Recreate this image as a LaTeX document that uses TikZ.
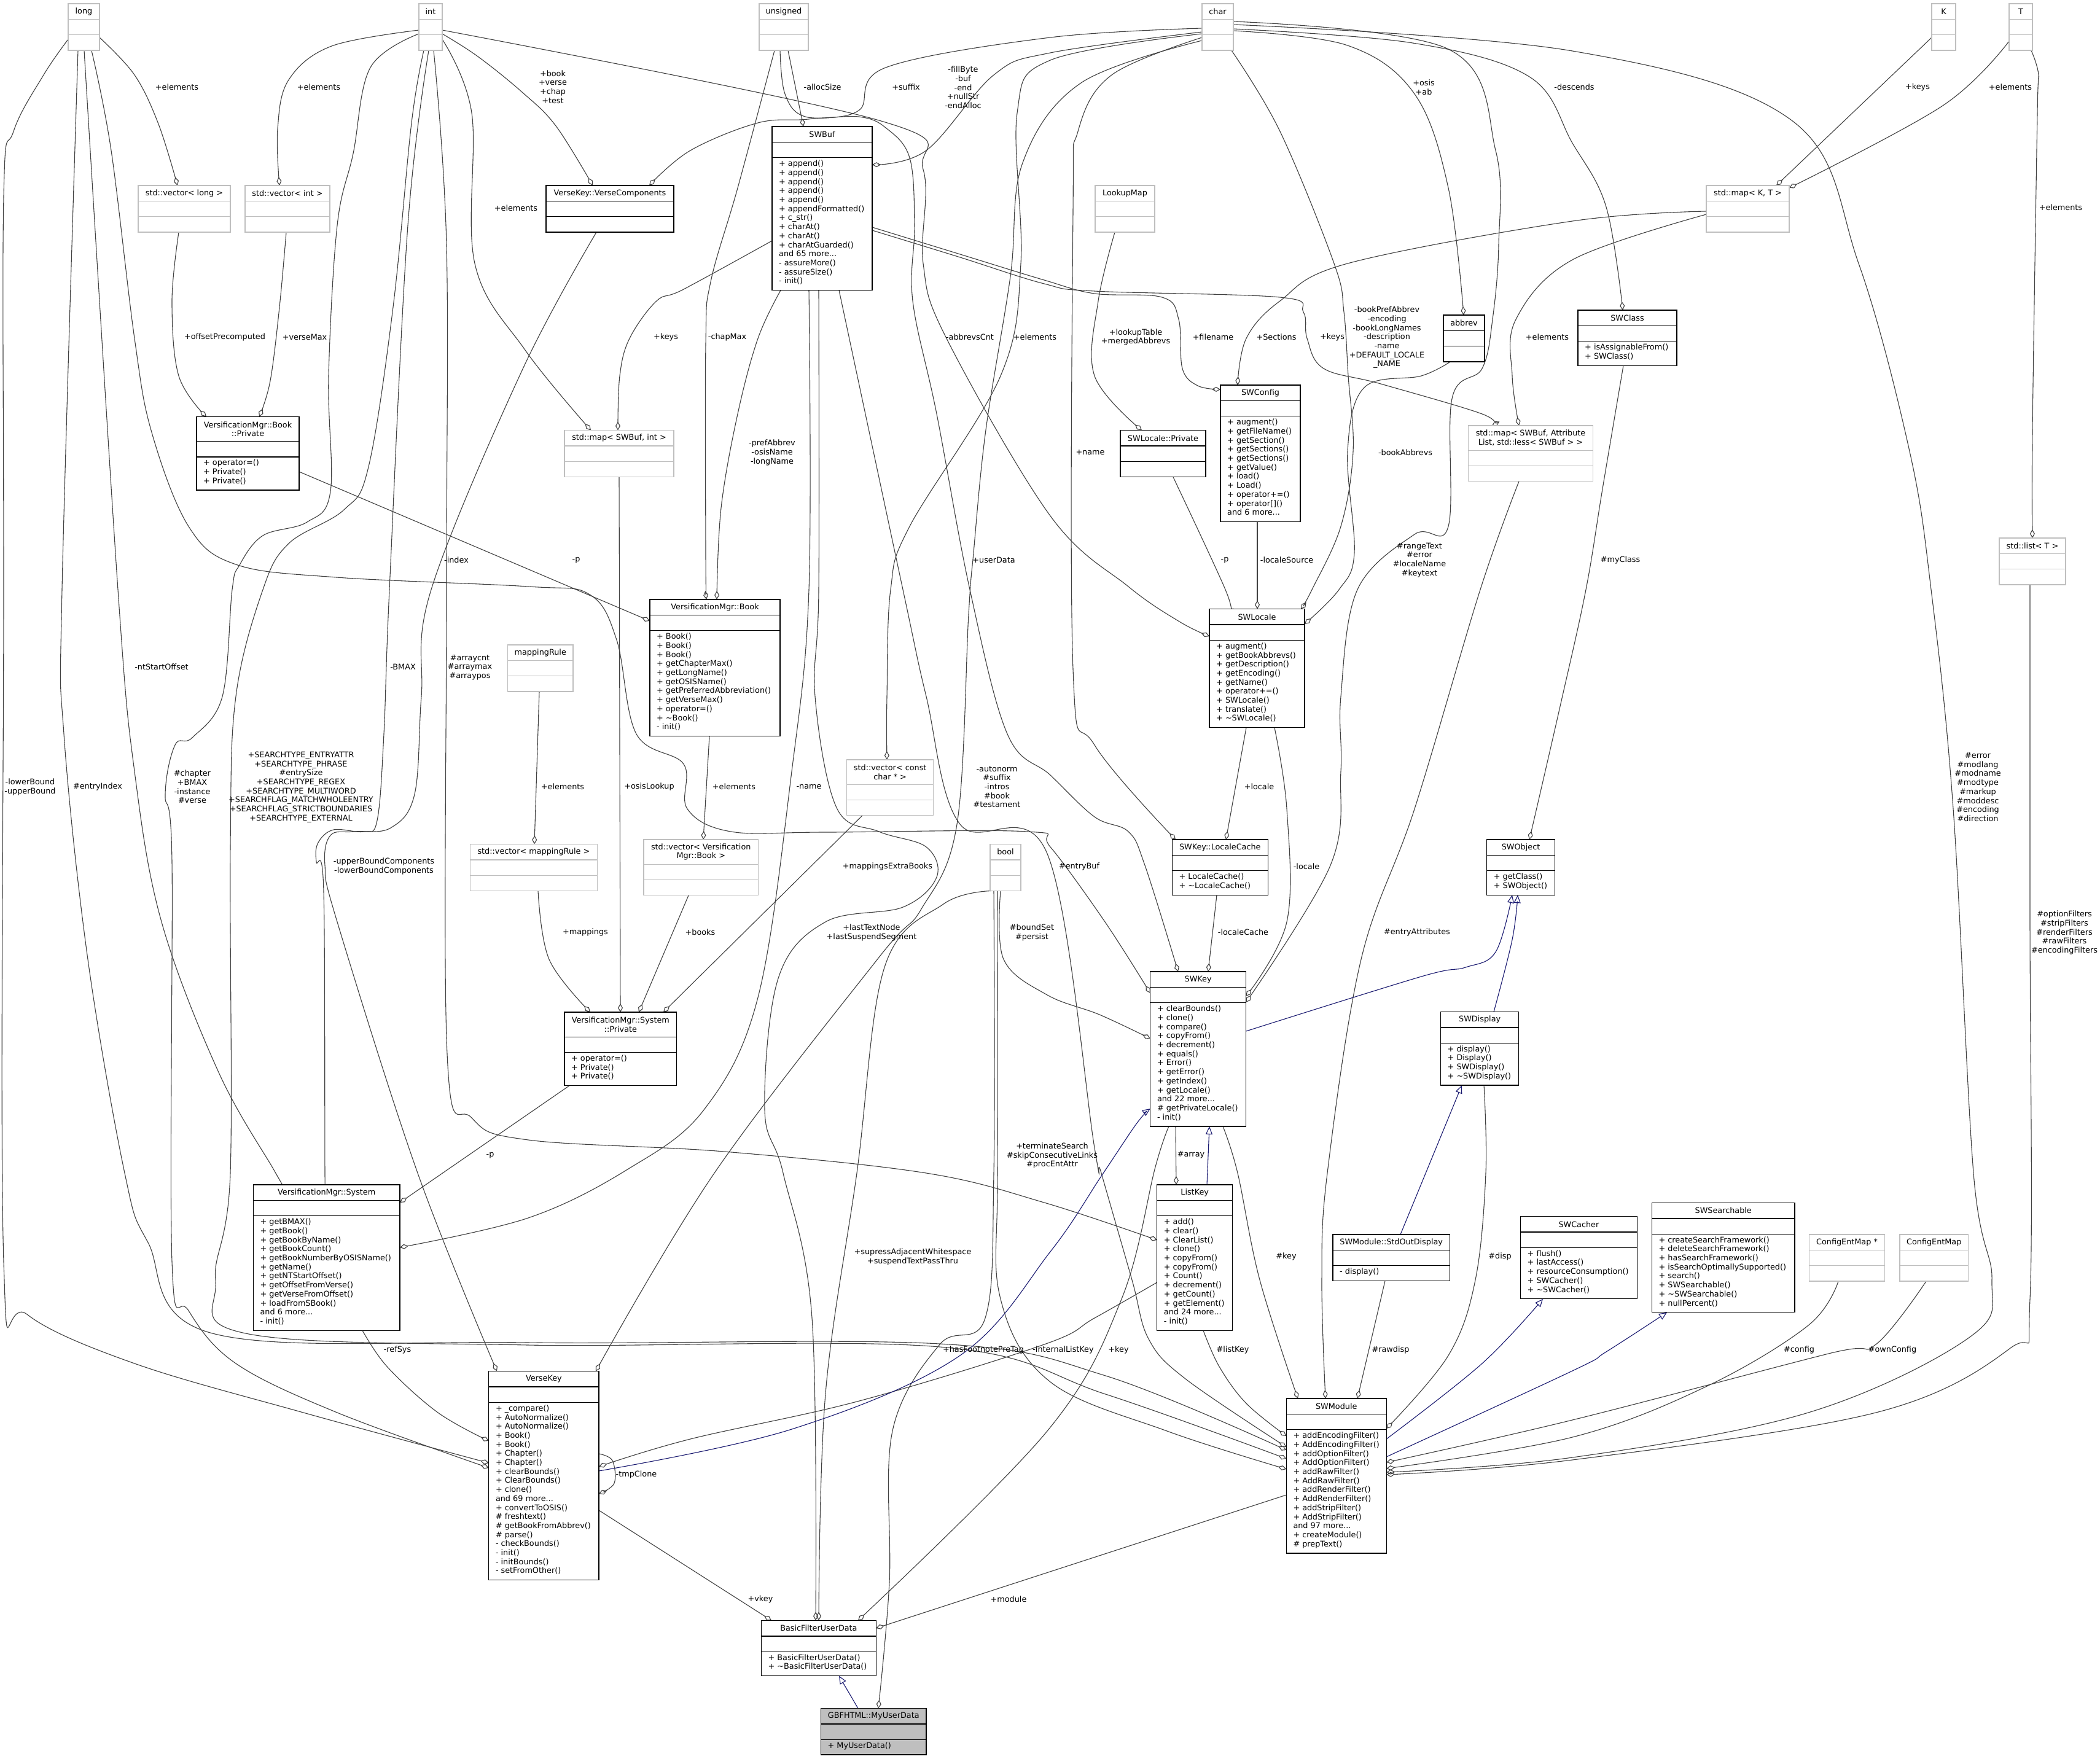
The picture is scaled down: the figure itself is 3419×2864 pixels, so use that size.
\documentclass[tikz,border=0pt]{standalone}
\usepackage{fontspec}
\setmainfont{DejaVu Sans}
\usetikzlibrary{arrows.meta}
\definecolor{edgec}{HTML}{404040}
\definecolor{navyc}{HTML}{191970}
\definecolor{grayb}{HTML}{BFBFBF}
\newcommand\dfont{\fontsize{12.8}{14.7}\selectfont}
\pgfdeclarelayer{back}
\pgfdeclarelayer{edges}
\pgfsetlayers{back,edges,main}
\newcommand{\ubox}[9]{%
  \pgfmathsetmacro{\uTH}{25.5+(#7-1)*14.7}%
  \pgfmathsetmacro{\uMH}{(#9>0)*(14.7*#9+10)+(#9<1)*25.3}%
  \pgfmathsetmacro{\uBH}{\uTH+25.3+\uMH}%
  \pgfmathsetmacro{\uBW}{#5-#3}%
  \node[#1, minimum width=\uBW pt, minimum height=\uBH pt, anchor=north west] (#2) at (#3,#4) {};
  \draw[#1line] (#3,#4+\uTH) -- (#5,#4+\uTH);
  \draw[#1line] (#3,#4+\uTH+25.3) -- (#5,#4+\uTH+25.3);
  \node[txt, align=center] at ({(#3+#5)/2},{#4+\uTH/2}) {#6};
  \ifnum#9>0\relax\node[txt, align=left, anchor=north west] at (#3+11,#4+\uTH+29.3) {#8};\fi
}
\begin{document}
\begin{tikzpicture}[x=1pt,y=-1pt,
  docbox/.style={draw=black, fill=white, line width=1.3pt, inner sep=0pt, outer sep=0pt},
  docboxline/.style={draw=black, line width=1.3pt},
  undbox/.style={draw=grayb, fill=white, line width=1.3pt, inner sep=0pt, outer sep=0pt},
  undboxline/.style={draw=grayb, line width=1.3pt},
  selbox/.style={draw=black, fill=grayb, line width=1.3pt, inner sep=0pt, outer sep=0pt},
  selboxline/.style={draw=black, line width=1.3pt},
  txt/.style={font=\dfont, inner sep=0pt, text=black},
  lbl/.style={font=\dfont, inner sep=0pt, align=center, text=black},
  agg/.style={draw=edgec, line width=1.1pt, -{Diamond[open,length=14pt,width=8pt]}},
  inh/.style={draw=navyc, line width=1.1pt, -{Triangle[open,length=13pt,width=11pt]}}]
\useasboundingbox (0,0) rectangle (3419,2864);
\begin{pgfonlayer}{back}
\fill[white] (0,0) rectangle (3419,2864);
\end{pgfonlayer}

% ---------------- boxes ----------------
\ubox{undbox}{long}{111}{6}{162}{long}{1}{}{0}
\ubox{undbox}{int}{682}{6}{720}{int}{1}{}{0}
\ubox{undbox}{unsigned}{1236}{6}{1316}{unsigned}{1}{}{0}
\ubox{undbox}{char}{1957}{6}{2008}{char}{1}{}{0}
\ubox{undbox}{K}{3145}{6}{3184}{K}{1}{}{0}
\ubox{undbox}{T}{3271}{6}{3309}{T}{1}{}{0}
\ubox{undbox}{vlong}{225}{302}{375}{std::vector< long >}{1}{}{0}
\ubox{undbox}{vint}{399}{302}{537}{std::vector< int >}{1}{}{0}
\ubox{docbox}{vcomp}{889}{302}{1097}{VerseKey::VerseComponents}{1}{}{0}
\ubox{docbox}{swbuf}{1257}{206}{1420}{SWBuf}{1}{+ append()\\+ append()\\+ append()\\+ append()\\+ append()\\+ appendFormatted()\\+ c\_str()\\+ charAt()\\+ charAt()\\+ charAtGuarded()\\and 65 more...\\- assureMore()\\- assureSize()\\- init()}{14}
\ubox{undbox}{lookupmap}{1783}{302}{1880}{LookupMap}{1}{}{0}
\ubox{undbox}{mapkt}{2778}{302}{2913}{std::map< K, T >}{1}{}{0}
\ubox{docbox}{abbrev}{2350}{513}{2417}{abbrev}{1}{}{0}
\ubox{docbox}{swclass}{2569}{505}{2730}{SWClass}{1}{+ isAssignableFrom()\\+ SWClass()}{2}
\ubox{docbox}{swconfig}{1987}{627}{2117}{SWConfig}{1}{+ augment()\\+ getFileName()\\+ getSection()\\+ getSections()\\+ getSections()\\+ getValue()\\+ load()\\+ Load()\\+ operator+=()\\+ operator{[}{]}()\\and 6 more...}{11}
\ubox{docbox}{bprivate}{320}{678.5}{487}{VersificationMgr::Book\\::Private}{2}{+ operator=()\\+ Private()\\+ Private()}{3}
\ubox{undbox}{mapbufint}{919}{700.6}{1097}{std::map< SWBuf, int >}{1}{}{0}
\ubox{docbox}{lprivate}{1824}{700.6}{1963}{SWLocale::Private}{1}{}{0}
\ubox{undbox}{mapattr}{2390.5}{693}{2593.5}{std::map< SWBuf, Attribute\\List, std::less< SWBuf > >}{2}{}{0}
\ubox{undbox}{listT}{3255}{876}{3363}{std::list< T >}{1}{}{0}
\ubox{docbox}{book}{1058}{976}{1270}{VersificationMgr::Book}{1}{+ Book()\\+ Book()\\+ Book()\\+ getChapterMax()\\+ getLongName()\\+ getOSISName()\\+ getPreferredAbbreviation()\\+ getVerseMax()\\+ operator=()\\+ \textasciitilde Book()\\- init()}{11}
\ubox{docbox}{swlocale}{1969}{991.6}{2124}{SWLocale}{1}{+ augment()\\+ getBookAbbrevs()\\+ getDescription()\\+ getEncoding()\\+ getName()\\+ operator+=()\\+ SWLocale()\\+ translate()\\+ \textasciitilde SWLocale()}{9}
\ubox{undbox}{mappingrule}{826.5}{1050}{933}{mappingRule}{1}{}{0}
\ubox{undbox}{vconst}{1378.7}{1237}{1519.7}{std::vector< const\\char * >}{2}{}{0}
\ubox{undbox}{vmaprule}{765.6}{1374.4}{972.3}{std::vector< mappingRule >}{1}{}{0}
\ubox{undbox}{vbook}{1048}{1367}{1234.5}{std::vector< Versification\\Mgr::Book >}{2}{}{0}
\ubox{undbox}{bool}{1612}{1374.4}{1662}{bool}{1}{}{0}
\ubox{docbox}{lcache}{1908.4}{1367}{2064.2}{SWKey::LocaleCache}{1}{+ LocaleCache()\\+ \textasciitilde LocaleCache()}{2}
\ubox{docbox}{swobject}{2420.7}{1367}{2531.4}{SWObject}{1}{+ getClass()\\+ SWObject()}{2}
\ubox{docbox}{swkey}{1872.8}{1582}{2028.5}{SWKey}{1}{+ clearBounds()\\+ clone()\\+ compare()\\+ copyFrom()\\+ decrement()\\+ equals()\\+ Error()\\+ getError()\\+ getIndex()\\+ getLocale()\\and 22 more...\\\# getPrivateLocale()\\- init()}{13}
\ubox{docbox}{sprivate}{919}{1648}{1101.7}{VersificationMgr::System\\::Private}{2}{+ operator=()\\+ Private()\\+ Private()}{3}
\ubox{docbox}{swdisplay}{2345.5}{1647.5}{2472.8}{SWDisplay}{1}{+ display()\\+ Display()\\+ SWDisplay()\\+ \textasciitilde SWDisplay()}{4}
\ubox{docbox}{vsystem}{412.4}{1929}{651}{VersificationMgr::System}{1}{+ getBMAX()\\+ getBook()\\+ getBookByName()\\+ getBookCount()\\+ getBookNumberByOSISName()\\+ getName()\\+ getNTStartOffset()\\+ getOffsetFromVerse()\\+ getVerseFromOffset()\\+ loadFromSBook()\\and 6 more...\\- init()}{12}
\ubox{docbox}{listkey}{1883.7}{1929}{2006.6}{ListKey}{1}{+ add()\\+ clear()\\+ ClearList()\\+ clone()\\+ copyFrom()\\+ copyFrom()\\+ Count()\\+ decrement()\\+ getCount()\\+ getElement()\\and 24 more...\\- init()}{12}
\ubox{docbox}{swsearchable}{2689.4}{1958.4}{2922}{SWSearchable}{1}{+ createSearchFramework()\\+ deleteSearchFramework()\\+ hasSearchFramework()\\+ isSearchOptimallySupported()\\+ search()\\+ SWSearchable()\\+ \textasciitilde SWSearchable()\\+ nullPercent()}{8}
\ubox{docbox}{swcacher}{2475.5}{1980.5}{2665.3}{SWCacher}{1}{+ flush()\\+ lastAccess()\\+ resourceConsumption()\\+ SWCacher()\\+ \textasciitilde SWCacher()}{5}
\ubox{docbox}{stdout}{2170}{2010}{2360.3}{SWModule::StdOutDisplay}{1}{- display()}{1}
\ubox{undbox}{cfgptr}{2945.6}{2010}{3068.4}{ConfigEntMap *}{1}{}{0}
\ubox{undbox}{cfg}{3093.1}{2010}{3204.4}{ConfigEntMap}{1}{}{0}
\ubox{docbox}{versekey}{795.8}{2232.6}{975}{VerseKey}{1}{+ \_compare()\\+ AutoNormalize()\\+ AutoNormalize()\\+ Book()\\+ Book()\\+ Chapter()\\+ Chapter()\\+ clearBounds()\\+ ClearBounds()\\+ clone()\\and 69 more...\\+ convertToOSIS()\\\# freshtext()\\\# getBookFromAbbrev()\\\# parse()\\- checkBounds()\\- init()\\- initBounds()\\- setFromOther()}{19}
\ubox{docbox}{swmodule}{2094.3}{2277}{2257.2}{SWModule}{1}{+ addEncodingFilter()\\+ AddEncodingFilter()\\+ addOptionFilter()\\+ AddOptionFilter()\\+ addRawFilter()\\+ AddRawFilter()\\+ addRenderFilter()\\+ AddRenderFilter()\\+ addStripFilter()\\+ AddStripFilter()\\and 97 more...\\+ createModule()\\\# prepText()}{13}
\ubox{docbox}{bfud}{1239.4}{2638.4}{1426.4}{BasicFilterUserData}{1}{+ BasicFilterUserData()\\+ \textasciitilde BasicFilterUserData()}{2}
\ubox{selbox}{myud}{1336.5}{2781.6}{1508.1}{GBFHTML::MyUserData}{1}{+ MyUserData()}{1}

% ---------------- connectors ----------------
\begin{pgfonlayer}{edges}
% long
\draw[agg] plot[smooth,tension=0.6] coordinates {(long.east |- 0,61) (219,122) (258,202) (vlong.north -| 289,0)};
\draw[agg] plot[smooth,tension=0.6] coordinates {(long.west |- 0,64) (71,122) (22,214) (6,320) (6,960) (6,2054) (44,2140) (219,2220) (494,2300) (versekey.west |- 0,2382)};
\draw[agg] plot[smooth,tension=0.6] coordinates {(long.south -| 137,0) (192,960) (219,1256) (263,1501) (356,1746) (446,1905) (vsystem.north -| 460,0)};
\draw[agg] plot[smooth,tension=0.6] coordinates {(long.south -| 127,0) (101,960) (104,1195) (143,1562) (203,1910) (241,2023) (346,2171) (860,2186) (1530,2188) (1800,2240) (swmodule.west |- 0,2361)};
\draw[agg] plot[smooth,tension=0.6] coordinates {(long.south -| 149,0) (181,245) (219,551) (247,704) (307,857) (384,919) (548,940) (860,955) (960,968) (1004,1042) (1036,1195) (1113,1244) (1119,1317) (1190,1354) (1344,1355) (1673,1354) (1710,1379) (1799,1501) (swkey.west |- 0,1617)};
% int
\draw[agg] plot[smooth,tension=0.6] coordinates {(int.west |- 0,49) (540,75) (470,130) (452,210) (vint.north -| 455,0)};
\draw[agg] plot[smooth,tension=0.6] coordinates {(int.east |- 0,55) (778,92) (850,150) (905,205) (vcomp.north -| 965,0)};
\draw[agg] plot[smooth,tension=0.6] coordinates {(int.east |- 0,64) (768,184) (773,429) (855,570) (mapbufint.north -| 962,0)};
\draw[agg] plot[smooth,tension=0.6] coordinates {(int.east |- 0,49) (1431,196) (1503,276) (1503,429) (1541,551) (1710,840) (1837,955) (1920,1012) (swlocale.west |- 0,1036)};
\draw[agg] plot[smooth,tension=0.6] coordinates {(int.west |- 0,55) (603,110) (575,250) (549,367) (535,612) (538,800) (500,850) (428,872) (390,920) (378,960) (362,1134) (313,1201) (285,1213) (269,1293) (280,1403) (280,2054) (307,2134) (384,2220) (549,2300) (versekey.west |- 0,2390)};
\draw[agg] plot[smooth,tension=0.6] coordinates {(int.south -| 690,0) (670,200) (640,500) (600,760) (560,830) (470,885) (428,960) (384,1134) (375,1379) (375,1910) (351,2084) (400,2171) (860,2190) (1530,2193) (1800,2270) (swmodule.west |- 0,2375)};
\draw[agg] plot[smooth,tension=0.6] coordinates {(int.south -| 698,0) (664,367) (634,960) (625,1195) (614,1336) (592,1354) (543,1351) (518,1372) (515,1403) (527,1452) (529,1910) (vsystem.north -| 530,0)};
\draw[agg] plot[smooth,tension=0.6] coordinates {(int.south -| 706,0) (727,400) (727,960) (728,1716) (768,1820) (860,1856) (1179,1875) (1508,1910) (1700,1958) (listkey.west |- 0,2019)};
% unsigned
\draw[agg] (unsigned.south -| 1283,0) -- (swbuf.north -| 1308,0);
\draw[agg] plot[smooth,tension=0.6] coordinates {(unsigned.south -| 1261,0) (1201,306) (1157,459) (1149,560) (1149,900) (book.north -| 1150,0)};
\draw[agg] plot[smooth,tension=0.6] coordinates {(unsigned.south -| 1270,0) (1278,153) (1311,190) (1398,190) (1442,208) (1481,257) (1489,367) (1486,490) (1525,674) (1579,960) (1640,1195) (1710,1262) (1782,1330) (1837,1354) (1864,1409) (swkey.north -| 1918,0)};
% char
\draw[agg] plot[smooth,tension=0.6] coordinates {(char.west |- 0,46) (1710,61) (1442,110) (1398,180) (1316,194) (1234,200) (1124,245) (vcomp.north -| 1057,0)};
\draw[agg] plot[smooth,tension=0.6] coordinates {(char.west |- 0,52) (1710,86) (1618,122) (1508,245) (swbuf.east |- 0,268)};
\draw[agg] plot[smooth,tension=0.6] coordinates {(char.west |- 0,55) (1710,98) (1656,184) (1662,429) (1629,612) (1481,857) (1450,960) (1444,1134) (vconst.north -| 1444,0)};
\draw[agg] plot[smooth,tension=0.6] coordinates {(char.west |- 0,61) (1810,122) (1755,214) (1747,343) (1747,1090) (1782,1213) (lcache.north -| 1914,0)};
\draw[agg] plot[smooth,tension=0.6] coordinates {(char.west |- 0,66) (1760,135) (1665,265) (1645,450) (1605,700) (1585,900) (1577,1000) (1558,1342) (1500,1480) (1430,1560) (1163,1910) (versekey.north -| 970,0)};
\draw[agg] plot[smooth,tension=0.6] coordinates {(char.south -| 2005,0) (2084,214) (2172,429) (2188,508) (2195,612) (2203,735) (2183,857) (2136,960) (swlocale.north -| 2118,0)};
\draw[agg] plot[smooth,tension=0.6] coordinates {(char.east |- 0,50) (2194,74) (2303,153) (2358,306) (abbrev.north -| 2383,0)};
\draw[agg] plot[smooth,tension=0.6] coordinates {(char.east |- 0,47) (2300,70) (2490,125) (2560,233) (2615,337) (swclass.north -| 2642,0)};
\draw[agg] plot[smooth,tension=0.6] coordinates {(char.east |- 0,35) (2358,80) (2435,245) (2440,398) (2430,520) (2413,600) (2364,649) (2358,857) (2303,870) (2210,960) (2183,1134) (2183,1256) (2166,1409) (swkey.east |- 0,1632)};
\draw[agg] plot[smooth,tension=0.6] coordinates {(char.east |- 0,40) (2560,83) (2917,196) (3026,429) (3109,735) (3144,960) (3180,1317) (3213,1910) (3243,2084) (3207,2177) (2944,2300) (2560,2373) (swmodule.east |- 0,2397)};
% SWBuf
\draw[agg] plot[smooth,tension=0.6] coordinates {(swbuf.west |- 0,392) (1113,471) (1069,490) (1025,551) (1009,612) (mapbufint.north -| 1006,0)};
\draw[agg] plot[smooth,tension=0.6] coordinates {(swbuf.south -| 1271,0) (1234,551) (1201,674) (1174,827) (book.north -| 1167,0)};
\draw[agg] plot[smooth,tension=0.6] coordinates {(swbuf.south -| 1317,0) (1317,960) (1289,1256) (1234,1624) (1146,1807) (1020,1905) (860,1983) (vsystem.east |- 0,2031)};
\draw[agg] plot[smooth,tension=0.6] coordinates {(swbuf.south -| 1333,0) (1333,960) (1327,1134) (1362,1315) (1431,1354) (1508,1379) (1525,1428) (1470,1477) (1344,1501) (1267,1593) (1245,1807) (1275,1910) (1322,2146) (bfud.north -| 1328,0)};
\draw[agg] plot[smooth,tension=0.6] coordinates {(swbuf.south -| 1366,0) (1470,960) (1508,1134) (1563,1342) (1705,1390) (1782,1869) (1793,1910) (1843,2084) (1870,2180) (1930,2245) (swmodule.west |- 0,2356)};
\draw[agg] plot[smooth,tension=0.6] coordinates {(swbuf.east |- 0,370) (1560,413) (1700,456) (1782,478) (1892,484) (1919,520) (1925,600) (1950,628) (swconfig.west |- 0,634)};
\draw[agg] plot[smooth,tension=0.6] coordinates {(swbuf.east |- 0,375) (1560,418) (1700,462) (1782,474) (2084,484) (2122,508) (2128,551) (2155,600) (2248,625) (2413,674) (mapattr.north -| 2429,0)};
% maps and templates
\draw[agg] plot[smooth,tension=0.6] coordinates {(mapkt.west |- 0,344) (2560,360) (2194,429) (2084,490) (2029,551) (swconfig.north -| 2015,0)};
\draw[agg] plot[smooth,tension=0.6] coordinates {(mapkt.west |- 0,349) (2560,423) (2468,520) (2462,612) (mapattr.north -| 2473,0)};
\draw[agg] (K.west |- 0,61) -- (mapkt.north -| 2892,0);
\draw[agg] plot[smooth,tension=0.6] coordinates {(T.west |- 0,67) (3163,172) (mapkt.east |- 0,306)};
\draw[agg] plot[smooth,tension=0.6] coordinates {(T.south -| 3307,0) (3319,122) (3317,184) (3309,700) (listT.north -| 3309,0)};
% versification
\draw[agg] plot[smooth,tension=0.6] coordinates {(vlong.south -| 291,0) (280,490) (291,612) (bprivate.north -| 336,0)};
\draw[agg] plot[smooth,tension=0.6] coordinates {(vint.south -| 466,0) (455,500) (440,620) (bprivate.north -| 422,0)};
\draw[agg] (bprivate.east |- 0,768) -- (book.west |- 0,1011);
\draw[agg] (book.south -| 1155,0) -- (vbook.north -| 1145,0);
\draw[agg] (mappingrule.south -| 878,0) -- (vmaprule.north -| 870,0);
\draw[agg] plot[smooth,tension=0.6] coordinates {(vmaprule.south -| 876,0) (894,1562) (sprivate.north -| 961,0)};
\draw[agg] (mapbufint.south -| 1008,0) -- (sprivate.north -| 1010,0);
\draw[agg] (vbook.south -| 1121,0) -- (sprivate.north -| 1040,0);
\draw[agg] (vconst.south -| 1404,0) -- (sprivate.north -| 1080,0);
\draw[agg] (sprivate.south -| 927,0) -- (vsystem.east |- 0,1958);
\draw[agg] plot[smooth,tension=0.6] coordinates {(vsystem.south -| 590,0) (631,2226) (713,2300) (versekey.west |- 0,2346)};
\draw[agg] plot[smooth,tension=0.6] coordinates {(vcomp.south -| 971,0) (850,603) (702,960) (686,1134) (675,1293) (636,1348) (576,1354) (538,1360) (529,1409) (549,1501) (680,1910) (versekey.north -| 809,0)};
% locale
\draw[agg] plot[smooth,tension=0.6] coordinates {(lookupmap.south -| 1815,0) (1788,490) (1782,612) (lprivate.north -| 1859,0)};
\draw[agg] plot[smooth,tension=0.6] coordinates {(abbrev.south -| 2361,0) (2314,612) (2221,631) (2194,735) (2205,900) (2180,960) (swlocale.east |- 0,1016)};
\draw[agg] plot[smooth,tension=0.6] coordinates {(lprivate.south -| 1910,0) (1995,960) (swlocale.north -| 2000,0)};
\draw[agg] (swconfig.south -| 2047,0) -- (swlocale.north -| 2047,0);
\draw[agg] (swlocale.south -| 2029,0) -- (lcache.north -| 1996,0);
\draw[agg] (lcache.south -| 1981,0) -- (swkey.north -| 1967,0);
\draw[agg] plot[smooth,tension=0.6] coordinates {(swlocale.south -| 2075,0) (2095,1317) (2095,1501) (swkey.east |- 0,1622)};
\draw[agg] plot[smooth,tension=0.6] coordinates {(swclass.south -| 2643,0) (2609,796) (2582,960) (2540,1150) (swobject.north -| 2490,0)};
% bool
\draw[agg] plot[smooth,tension=0.6] coordinates {(bool.south -| 1629,0) (1634,1562) (1705,1620) (1790,1652) (swkey.west |- 0,1691)};
\draw[agg] plot[smooth,tension=0.6] coordinates {(bool.south -| 1614,0) (1536,1472) (1440,1575) (1395,1910) (1344,2269) (bfud.north -| 1333,0)};
\draw[agg] plot[smooth,tension=0.6] coordinates {(bool.south -| 1618,0) (1618,1910) (1604,2146) (1530,2189) (1453,2330) (1448,2576) (myud.north -| 1430,0)};
\draw[agg] plot[smooth,tension=0.6] coordinates {(bool.south -| 1624,0) (1624,1910) (1629,2115) (1710,2250) (1900,2330) (swmodule.west |- 0,2392)};
% keys
\draw[agg] plot[smooth,tension=0.6] coordinates {(listkey.west |- 0,2088) (1782,2146) (1700,2189) (1399,2281) (1124,2343) (versekey.east |- 0,2388)};
\draw[agg] plot[smooth,tension=0.6] coordinates {(versekey.east |- 0,2367) (997,2378) (1000,2415) (versekey.east |- 0,2432)};
\draw[agg] (versekey.east |- 0,2459) -- (bfud.north -| 1256,0);
\draw[agg] plot[smooth,tension=0.6] coordinates {(swkey.south -| 1903,0) (1881,1900) (1826,2115) (1705,2330) (bfud.north -| 1397,0)};
\draw[agg] (swmodule.west |- 0,2434) -- (bfud.east |- 0,2651);
\draw[agg] (swkey.south -| 1914,0) -- (listkey.north -| 1915,0);
\draw[agg] plot[smooth,tension=0.6] coordinates {(listkey.south -| 1959,0) (1985,2225) (2029,2285) (swmodule.west |- 0,2338)};
\draw[agg] plot[smooth,tension=0.6] coordinates {(swkey.south -| 1991,0) (2015,1910) (2051,2084) (swmodule.north -| 2113,0)};
% module
\draw[agg] plot[smooth,tension=0.6] coordinates {(swdisplay.south -| 2416,0) (2419,1910) (2402,2084) (2358,2207) (swmodule.east |- 0,2326)};
\draw[agg] (stdout.south -| 2255,0) -- (swmodule.north -| 2210,0);
\draw[agg] plot[smooth,tension=0.6] coordinates {(mapattr.south -| 2473,0) (2410,960) (2303,1317) (2216,1562) (2161,1910) (2152,2084) (swmodule.north -| 2158,0)};
\draw[agg] plot[smooth,tension=0.6] coordinates {(listT.south -| 3305,0) (3305,1500) (3305,2115) (3273,2195) (3054,2300) (2560,2377) (swmodule.east |- 0,2401)};
\draw[agg] plot[smooth,tension=0.6] coordinates {(cfgptr.south -| 2993,0) (2944,2158) (2779,2257) (2560,2340) (swmodule.east |- 0,2391)};
\draw[agg] plot[smooth,tension=0.6] coordinates {(cfg.south -| 3136,0) (3054,2189) (2977,2204) (2560,2312) (swmodule.east |- 0,2381)};
% inheritance
\draw[inh] plot[smooth,tension=0.6] coordinates {(swkey.east |- 0,1679) (2314,1590) (2386,1575) (2435,1550) (swobject.south -| 2462,0)};
\draw[inh] plot[smooth,tension=0.6] coordinates {(swdisplay.north -| 2432,0) (2462,1530) (swobject.south -| 2471,0)};
\draw[inh] plot[smooth,tension=0.6] coordinates {(versekey.east |- 0,2395) (1289,2327) (1563,2207) (1710,2038) (1793,1915) (1850,1830) (swkey.west |- 0,1805)};
\draw[inh] (listkey.north -| 1965,0) -- (swkey.south -| 1969,0);
\draw[inh] (stdout.north -| 2280,0) -- (swdisplay.south -| 2380,0);
\draw[inh] plot[smooth,tension=0.6] coordinates {(swmodule.east |- 0,2343) (2413,2220) (swcacher.south -| 2512,0)};
\draw[inh] plot[smooth,tension=0.6] coordinates {(swmodule.east |- 0,2372) (2560,2232) (2615,2201) (swsearchable.south -| 2714,0)};
\draw[inh] (myud.north -| 1397,0) -- (bfud.south -| 1366,0);
\end{pgfonlayer}

% ---------------- labels ----------------
\node[lbl] at (288,142) {+elements};
\node[lbl] at (519,142) {+elements};
\node[lbl] at (366,549) {+offsetPrecomputed};
\node[lbl] at (496,549) {+verseMax};
\node[lbl] at (840,339) {+elements};
\node[lbl] at (743,912) {-index};
\node[lbl] at (900,141.5) {+book\\+verse\\+chap\\+test};
\node[lbl] at (1339,142) {-allocSize};
\node[lbl] at (1475,142) {+suffix};
\node[lbl] at (1568,142.5) {-fillByte\\-buf\\-end\\+nullStr\\-endAlloc};
\node[lbl] at (1084,549) {+keys};
\node[lbl] at (1184,549) {-chapMax};
\node[lbl] at (1579,549) {-abbrevsCnt};
\node[lbl] at (1685,549) {+elements};
\node[lbl] at (1257,737) {-prefAbbrev\\-osisName\\-longName};
\node[lbl] at (938,912) {-p};
\node[lbl] at (1618,912) {+userData};
\node[lbl] at (1849,549) {+lookupTable\\+mergedAbbrevs};
\node[lbl] at (1975,549) {+filename};
\node[lbl] at (2078,549) {+Sections};
\node[lbl] at (2169,549) {+keys};
\node[lbl] at (2258,549.5) {-bookPrefAbbrev\\-encoding\\-bookLongNames\\-description\\-name\\+DEFAULT\_LOCALE\\\_NAME};
\node[lbl] at (2318,142.5) {+osis\\+ab};
\node[lbl] at (2563,142) {-descends};
\node[lbl] at (2519,549) {+elements};
\node[lbl] at (1775,737) {+name};
\node[lbl] at (2288,737) {-bookAbbrevs};
\node[lbl] at (1994,912) {-p};
\node[lbl] at (2095,912) {-localeSource};
\node[lbl] at (2311,912) {\#rangeText\\\#error\\\#localeName\\\#keytext};
\node[lbl] at (3122,142) {+keys};
\node[lbl] at (3273,142) {+elements};
\node[lbl] at (3355,338) {+elements};
\node[lbl] at (2638,912) {\#myClass};
\node[lbl] at (263,1086) {-ntStartOffset};
\node[lbl] at (656,1086) {-BMAX};
\node[lbl] at (765,1086.5) {\#arraycnt\\\#arraymax\\\#arraypos};
\node[lbl] at (49,1281.5) {-lowerBound\\-upperBound};
\node[lbl] at (159,1281) {\#entryIndex};
\node[lbl] at (313,1281) {\#chapter\\+BMAX\\-instance\\\#verse};
\node[lbl] at (490,1281.5) {+SEARCHTYPE\_ENTRYATTR\\+SEARCHTYPE\_PHRASE\\\#entrySize\\+SEARCHTYPE\_REGEX\\+SEARCHTYPE\_MULTIWORD\\+SEARCHFLAG\_MATCHWHOLEENTRY\\+SEARCHFLAG\_STRICTBOUNDARIES\\+SEARCHTYPE\_EXTERNAL};
\node[lbl] at (625,1410.5) {-upperBoundComponents\\-lowerBoundComponents};
\node[lbl] at (798,1881) {-p};
\node[lbl] at (916,1281) {+elements};
\node[lbl] at (1057,1281) {+osisLookup};
\node[lbl] at (1195,1281) {+elements};
\node[lbl] at (1317,1281) {-name};
\node[lbl] at (1623,1281) {-autonorm\\\#suffix\\-intros\\\#book\\\#testament};
\node[lbl] at (1445,1410.5) {+mappingsExtraBooks};
\node[lbl] at (1419,1518.5) {+lastTextNode\\+lastSuspendSegment};
\node[lbl] at (953,1518) {+mappings};
\node[lbl] at (1140,1518) {+books};
\node[lbl] at (1680,1518.5) {\#boundSet\\\#persist};
\node[lbl] at (1713,1881.5) {+terminateSearch\\\#skipConsecutiveLinks\\\#procEntAttr};
\node[lbl] at (2050,1281) {+locale};
\node[lbl] at (1757,1410.5) {\#entryBuf};
\node[lbl] at (2127,1410.5) {-locale};
\node[lbl] at (2024,1518) {-localeCache};
\node[lbl] at (2307,1518) {\#entryAttributes};
\node[lbl] at (1939,1880) {\#array};
\node[lbl] at (3220,1281.5) {\#error\\\#modlang\\\#modname\\\#modtype\\\#markup\\\#moddesc\\\#encoding\\\#direction};
\node[lbl] at (3361,1518.5) {\#optionFilters\\\#stripFilters\\\#renderFilters\\\#rawFilters\\\#encodingFilters};
\node[lbl] at (1486,2046.5) {+supressAdjacentWhitespace\\+suspendTextPassThru};
\node[lbl] at (1036,2401) {-tmpClone};
\node[lbl] at (1601,2198) {+hasFootnotePreTag};
\node[lbl] at (1731,2198) {-internalListKey};
\node[lbl] at (1238,2604) {+vkey};
\node[lbl] at (1642,2604) {+module};
\node[lbl] at (1821,2198) {+key};
\node[lbl] at (2007,2198) {\#listKey};
\node[lbl] at (2094,2046) {\#key};
\node[lbl] at (2264,2198) {\#rawdisp};
\node[lbl] at (2442,2046) {\#disp};
\node[lbl] at (2929,2198) {\#config};
\node[lbl] at (3081,2198) {\#ownConfig};
\node[lbl] at (647,2198) {-refSys};
\end{tikzpicture}
\end{document}
